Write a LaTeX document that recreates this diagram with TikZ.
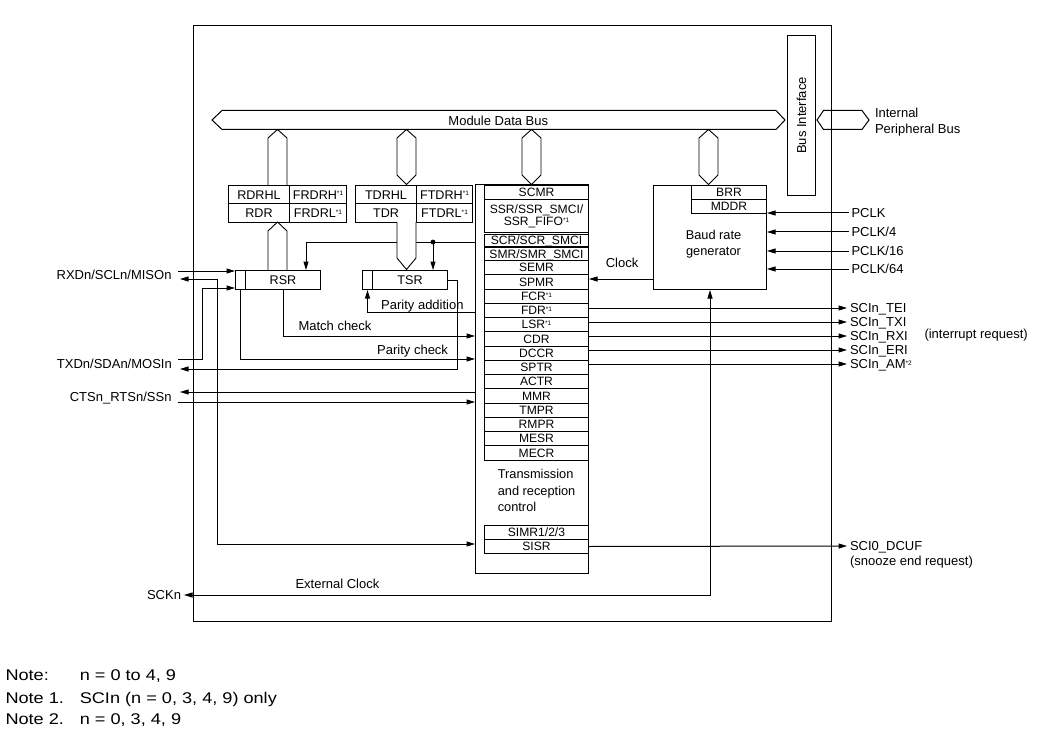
\documentclass[tikz,border=0pt]{standalone}
\usepackage{fontspec}
\setmainfont{Liberation Sans}
\newfontfamily\notefont[FakeStretch=1.17]{Liberation Sans}
\usetikzlibrary{arrows.meta,calc}
\newcommand{\myfm}{\fontsize{13pt}{16pt}\selectfont}
\newcommand{\myfr}{\fontsize{12.1pt}{12.4pt}\selectfont}
\newcommand{\myfb}{\fontsize{12.6pt}{14pt}\selectfont}
\newcommand{\myfn}{\notefont\fontsize{15.5pt}{18pt}\selectfont}
\newcommand{\markone}{\raisebox{3.3pt}{\fontsize{6.5pt}{6.5pt}\selectfont *1}}
\newcommand{\marktwo}{\raisebox{3.3pt}{\fontsize{6.5pt}{6.5pt}\selectfont *2}}
% \mybox{name}{x}{y}{width}{height}{style}{text}
\newcommand{\mybox}[7]{\node[#6,minimum width=#4pt,minimum height=#5pt,anchor=north west] (#1) at (#2,#3) {#7};}
\begin{document}
\begin{tikzpicture}[x=1pt,y=-1pt,line width=1pt,
  >={Triangle[length=8.5pt,width=5pt]},
  plain/.style={draw,inner sep=0pt},
  box/.style={draw,inner sep=0pt,font=\myfb,text height=9pt,text depth=0pt},
  reg/.style={draw,inner sep=0pt,font=\myfr,text height=8.7pt,text depth=0pt},
  reg2/.style={draw,inner sep=0pt,font=\myfr,align=center},
  lbl/.style={inner sep=0pt,font=\myfm,text height=9.3pt,text depth=0pt},
  rlbl/.style={lbl,anchor=west,inner xsep=2.5pt},
  note/.style={inner sep=0pt,font=\myfn,text height=11pt,text depth=0pt,anchor=west},
  hexa/.style={line width=0.9pt}]
\useasboundingbox (0,0) rectangle (1044,738);

% ---------- outer block and bus interface
\mybox{sci}{193}{25}{638}{596}{plain}{}
\mybox{bif}{787}{35}{28}{160}{plain}{}
\node[lbl,rotate=90] (biftxt) at (bif.center) {Bus Interface};

% ---------- buses
\draw (212,120) -- (222,110.5) -- (776,110.5) -- (785,120) -- (776,129.5) -- (222,129.5) -- cycle;
\node[lbl] (mdb) at (498.3,121.3) {Module Data Bus};
\draw (817,120) -- (823.5,110.5) -- (862,110.5) -- (869,120) -- (862,129.5) -- (823.5,129.5) -- cycle;
\node[lbl,anchor=west] (ipb1) at (874.5,112.5) {Internal};
\node[lbl,anchor=west] (ipb2) at (874.5,128.6) {Peripheral Bus};

% ---------- bus connectors
\draw[hexa] (268,185) -- (268,138) -- (277.5,129.5) -- (287,138) -- (287,185);
\draw[hexa] (397,138) -- (406.5,129.5) -- (416,138) -- (416,175) -- (406.5,184.5) -- (397,175) -- cycle;
\draw[hexa] (522,138) -- (531.5,129.5) -- (541,138) -- (541,175) -- (531.5,184.5) -- (522,175) -- cycle;
\draw[hexa] (699,138) -- (708.5,129.5) -- (718,138) -- (718,175) -- (708.5,184.5) -- (699,175) -- cycle;
\draw[hexa] (268,270) -- (268,231) -- (277.5,222) -- (287,231) -- (287,270);

% ---------- data registers
\mybox{rdrhl}{228}{185}{61}{18.5}{box}{RDRHL}
\mybox{frdrh}{289}{185}{57}{18.5}{box}{FRDRH\markone}
\mybox{rdr}{228}{203.5}{61}{18.5}{box}{RDR}
\mybox{frdrl}{289}{203.5}{57}{18.5}{box}{FRDRL\markone}
\mybox{tdrhl}{355}{185}{61}{18.5}{box}{TDRHL}
\mybox{ftdrh}{416}{185}{56}{18.5}{box}{FTDRH\markone}
\mybox{tdr}{355}{203.5}{61}{18.5}{box}{TDR}
\mybox{ftdrl}{416}{203.5}{56}{18.5}{box}{FTDRL\markone}

% ---------- shift registers
\mybox{rsrc}{235}{270}{10}{19}{box}{}
\mybox{rsr}{245}{270}{75}{19}{box}{RSR}
\mybox{tsrc}{362}{270}{10}{19}{box}{}
\mybox{tsr}{372}{270}{75}{19}{box}{TSR}

% ---------- transmission and reception control
\mybox{ctl}{475}{184}{113}{389}{plain}{}
\mybox{scmr}{484}{185}{104}{14}{reg}{SCMR}
\mybox{ssr}{484}{199}{104}{33.3}{reg2}{SSR/SSR\_SMCI/\\SSR\_FIFO\markone}
\mybox{scr}{484}{233.6}{104}{12.4}{reg}{SCR/SCR\_SMCI}
\mybox{smr}{484}{247.3}{104}{12.7}{reg}{SMR/SMR\_SMCI}
\mybox{semr}{484}{260}{104}{14.25}{reg}{SEMR}
\mybox{spmr}{484}{274.25}{104}{14.25}{reg}{SPMR}
\mybox{fcr}{484}{288.5}{104}{14.25}{reg}{FCR\markone}
\mybox{fdr}{484}{302.75}{104}{14.25}{reg}{FDR\markone}
\mybox{lsr}{484}{317}{104}{14.25}{reg}{LSR\markone}
\mybox{cdr}{484}{331.25}{104}{14.25}{reg}{CDR}
\mybox{dccr}{484}{345.5}{104}{14.25}{reg}{DCCR}
\mybox{sptr}{484}{359.75}{104}{14.25}{reg}{SPTR}
\mybox{actr}{484}{374}{104}{14.25}{reg}{ACTR}
\mybox{mmr}{484}{388.25}{104}{14.25}{reg}{MMR}
\mybox{tmpr}{484}{402.5}{104}{14.25}{reg}{TMPR}
\mybox{rmpr}{484}{416.75}{104}{14.25}{reg}{RMPR}
\mybox{mesr}{484}{431}{104}{14.25}{reg}{MESR}
\mybox{mecr}{484}{445.25}{104}{14.25}{reg}{MECR}
\node[anchor=north west,align=left,inner sep=0pt,font=\fontsize{12.8pt}{16.5pt}\selectfont] (trc) at (497.3,469) {Transmission\\and reception\\control};
\mybox{simr}{484}{525}{104}{14}{reg}{SIMR1/2/3}
\mybox{sisr}{484}{539}{104}{14}{reg}{SISR}

% ---------- baud rate generator
\mybox{brg}{653}{185}{113}{104}{plain}{}
\mybox{brr}{691}{185}{75}{14}{reg}{BRR}
\mybox{mddr}{691}{199}{75}{14}{reg}{MDDR}
\node[anchor=north,align=center,inner sep=0pt,font=\fontsize{12.8pt}{16pt}\selectfont] (brgtxt) at (713.5,229.4) {Baud rate\\generator};

% ---------- named levels and pin ends
\coordinate (jn) at (433,242);
\coordinate (yPA) at (0,312.5);
\coordinate (yMC) at (0,336);
\coordinate (yPC) at (0,359);
\coordinate (yCK) at (0,279);
\coordinate (rxdI) at (178,271);
\coordinate (rxdO) at (180,279);
\coordinate (txdI) at (178,359);
\coordinate (txdO) at (180,369);
\coordinate (ctsO) at (180,392);
\coordinate (ctsI) at (178,402);
\coordinate (k1) at (217,544);
\coordinate (k2) at (202,288);

% ---------- internal connections
\draw[->] (ctl.west |- jn) -| ($(rsr.north west)+(61,0)$);
\fill (jn) circle (2.4pt);
\draw[->] (jn) -- (jn |- tsr.north);
\filldraw[hexa,fill=white] (397,222) -- (397,258) -- (406.5,269.5) -- (416,258) -- (416,222);
\draw[->] (ctl.west |- yPA) -| (tsrc.south);
\draw[->] (rsr.south) |- (ctl.west |- yMC);
\draw[->] (rsrc.south) |- (ctl.west |- yPC);
\draw[->] (brg.west |- yCK) -- (spmr.east |- yCK);
\node[lbl] (clk) at (622,263) {Clock};
\node[lbl,anchor=west] (pa) at (380.7,305.3) {Parity addition};
\node[lbl,anchor=west] (mc) at (298,326.3) {Match check};
\node[lbl,anchor=west] (pc) at (376.7,350) {Parity check};

% ---------- pins on the left
\node[lbl,anchor=east] (rxd) at (172,274.5) {RXDn/SCLn/MISOn};
\node[lbl,anchor=east] (txd) at (172.3,364) {TXDn/SDAn/MOSIn};
\node[lbl,anchor=east] (cts) at (172,396.5) {CTSn\_RTSn/SSn};
\draw[->] (rxdI) -- (rsrc.west |- rxdI);
\draw[<->] (rxdO) -| (k1) -- (ctl.west |- k1);
\draw[->] (txdI) -| (k2) -- (rsrc.west |- k2);
\draw[->] (tsr.east) -- ++(9,0) |- (txdO);
\draw[->] (ctl.west |- ctsO) -- (ctsO);
\draw[->] (ctsI) -- (ctl.west |- ctsI);

% ---------- clock inputs
\node[rlbl] (pclk) at (848.5,213) {PCLK};
\node[rlbl] (pclk4) at (848.5,232) {PCLK/4};
\node[rlbl] (pclk16) at (848.5,251) {PCLK/16};
\node[rlbl] (pclk64) at (848.5,269) {PCLK/64};
\draw[->] (pclk.west) -- (brg.east |- pclk.west);
\draw[->] (pclk4.west) -- (brg.east |- pclk4.west);
\draw[->] (pclk16.west) -- (brg.east |- pclk16.west);
\draw[->] (pclk64.west) -- (brg.east |- pclk64.west);

% ---------- interrupt outputs
\node[rlbl] (tei) at (847,308) {SCIn\_TEI};
\node[rlbl] (txi) at (847,322) {SCIn\_TXI};
\node[rlbl] (rxi) at (847,336) {SCIn\_RXI};
\node[rlbl] (eri) at (847,350) {SCIn\_ERI};
\node[rlbl] (am) at (847,364) {SCIn\_AM\marktwo};
\node[lbl,anchor=west] (irq) at (924,334) {(interrupt request)};
\draw[->] (ctl.east |- tei.west) -- (tei.west);
\draw[->] (ctl.east |- txi.west) -- (txi.west);
\draw[->] (ctl.east |- rxi.west) -- (rxi.west);
\draw[->] (ctl.east |- eri.west) -- (eri.west);
\draw[->] (ctl.east |- am.west) -- (am.west);

% ---------- snooze end
\node[rlbl] (dcuf) at (847,546) {SCI0\_DCUF};
\node[lbl,anchor=west] (snz) at (849.5,561) {(snooze end request)};
\draw[->] (sisr.east) -- (dcuf.west);

% ---------- external clock
\node[lbl,anchor=east,inner xsep=2.5pt] (sck) at (184,595) {SCKn};
\node[lbl,anchor=west] (extclk) at (295,584) {External Clock};
\draw[<->] (sck.east) -- (sck.east -| brg.south) -- (brg.south);

% ---------- notes
\node[note] (n0) at (5,675.3) {Note:};
\node[note] (n0t) at (79.3,675.3) {n = 0 to 4, 9};
\node[note] (n1) at (5,697.5) {Note 1.};
\node[note] (n1t) at (79.3,697.5) {SCIn (n = 0, 3, 4, 9) only};
\node[note] (n2) at (5,719) {Note 2.};
\node[note] (n2t) at (79.3,719) {n = 0, 3, 4, 9};
\end{tikzpicture}
\end{document}
